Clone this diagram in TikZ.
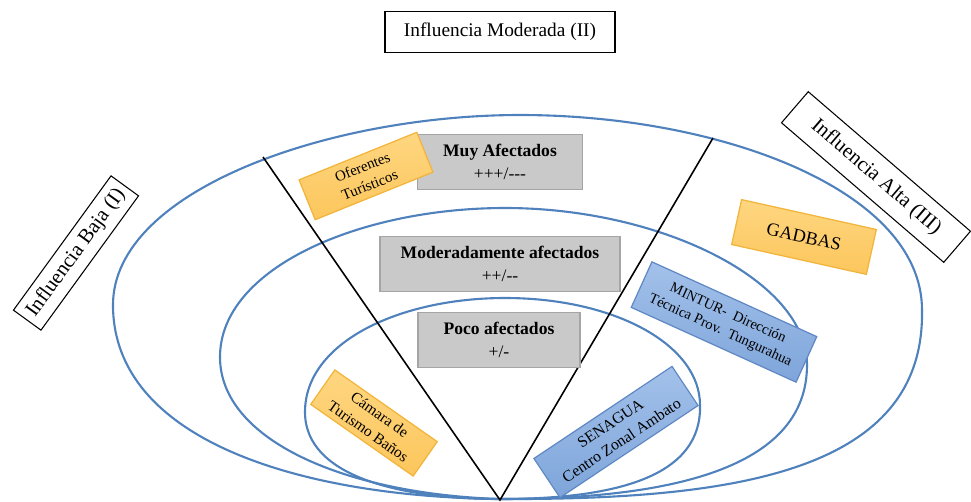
\documentclass[tikz,border=0pt]{standalone}
\usepackage{fontspec}
\setmainfont{Liberation Serif}
\definecolor{zoneblue}{RGB}{79,129,189}
\definecolor{levelfill}{RGB}{201,201,201}
\definecolor{levelborder}{RGB}{165,165,165}
\definecolor{orangetop}{RGB}{254,214,128}
\definecolor{orangebot}{RGB}{252,198,92}
\definecolor{orangeborder}{RGB}{242,180,58}
\definecolor{bluetop}{RGB}{163,193,234}
\definecolor{bluebot}{RGB}{126,165,218}
\definecolor{blueborder}{RGB}{96,136,196}
% one drawing unit = one pixel of the layout grid
\newdimen\pxu \pxu=0.02cm
\begin{document}
\begin{tikzpicture}[x=0.02cm,y=-0.02cm,
  zone/.style={draw=zoneblue,line width=1.2pt},
  divider/.style={draw=black,line width=0.9pt},
  framebox/.style={draw=black,line width=0.6pt,fill=white,inner sep=0pt,align=center},
  levelbox/.style={draw=levelborder,line width=0.6pt,fill=levelfill,inner sep=0pt,align=center,
    minimum height=55\pxu,font=\fontsize{10}{13}\selectfont},
  actor/.style={inner sep=0pt,align=center,line width=0.7pt},
  orangebox/.style={actor,draw=orangeborder,top color=orangetop,bottom color=orangebot},
  bluebox/.style={actor,draw=blueborder,top color=bluetop,bottom color=bluebot},
]
\useasboundingbox (0,0) rectangle (971,501);

% common point where the three zones and the two dividers meet
\coordinate (apex) at (500,499);
\coordinate (vtip) at (500,500);
\coordinate (ltop) at (263,157);
\coordinate (rtop) at (713,138);

% outer zone
\draw[zone] (apex) .. controls (300,497) and (113,440) .. (113,305)
  .. controls (113,190) and (330,115) .. (520,115)
  .. controls (720,115) and (922,190) .. (922,310)
  .. controls (925,470) and (740,500) .. (apex);
% middle zone
\draw[zone] (apex) .. controls (345,494) and (220,440) .. (220,357)
  .. controls (220,268) and (360,208) .. (505,208)
  .. controls (660,208) and (807,280) .. (807,365)
  .. controls (807,465) and (680,499) .. (apex);
% inner zone
\draw[zone] (apex) .. controls (410,499) and (305,480) .. (305,412)
  .. controls (305,342) and (400,298) .. (505,298)
  .. controls (615,298) and (700,345) .. (700,405)
  .. controls (702,475) and (620,499) .. (apex);

% sector dividers
\draw[divider] (ltop) -- (vtip) -- (rtop);

% influence labels
\node[framebox,minimum width=230\pxu,minimum height=41\pxu,
  font=\fontsize{11}{13}\selectfont] (moderada) at (500,32) {Influencia Moderada (II)};
\node[framebox,rotate=54,minimum width=166\pxu,minimum height=34\pxu,
  font=\fontsize{11.8}{14}\selectfont] (baja) at (76,253) {Influencia Baja (I)};
\node[framebox,rotate=-40.7,minimum width=214\pxu,minimum height=41\pxu,
  font=\fontsize{11.8}{14}\selectfont] (alta) at (876,177) {Influencia Alta (III)};

% levels of affectation
\node[levelbox,minimum width=165\pxu] (muy) at (500,162)
  {\textbf{Muy Afectados}\\+++/\mbox{-}\mbox{-}\mbox{-}};
\node[levelbox,minimum width=240\pxu] (moderado) at (500,264)
  {\textbf{Moderadamente afectados}\\++/\mbox{-}\mbox{-}};
\node[levelbox,minimum width=162\pxu] (poco) at (499,340)
  {\textbf{Poco afectados}\\+/\mbox{-}};

% stakeholders
\node[orangebox,rotate=22,minimum width=127\pxu,minimum height=43\pxu,
  font=\fontsize{8.5}{11}\selectfont] (oferentes) at (366,176) {Oferentes\\Turísticos};
\node[orangebox,rotate=-12.5,minimum width=138\pxu,minimum height=46\pxu,
  font=\fontsize{10.5}{12}\selectfont] (gadbas) at (804,237) {GADBAS};
\node[orangebox,rotate=-35,minimum width=125\pxu,minimum height=42\pxu,
  font=\fontsize{8.8}{11.5}\selectfont] (camara) at (374,423) {Cámara de\\Turismo Baños};
\node[bluebox,rotate=-24.4,minimum width=181\pxu,minimum height=50\pxu,
  font=\fontsize{8.2}{10.5}\selectfont] (mintur) at (724,322)
  {MINTUR-\ \ Dirección\\Técnica Prov.\ \ Tungurahua};
\node[bluebox,rotate=33.7,minimum width=166\pxu,minimum height=47\pxu,
  font=\fontsize{9}{11.5}\selectfont] (senagua) at (616,432)
  {SENAGUA\\Centro Zonal Ambato};
\end{tikzpicture}
\end{document}
